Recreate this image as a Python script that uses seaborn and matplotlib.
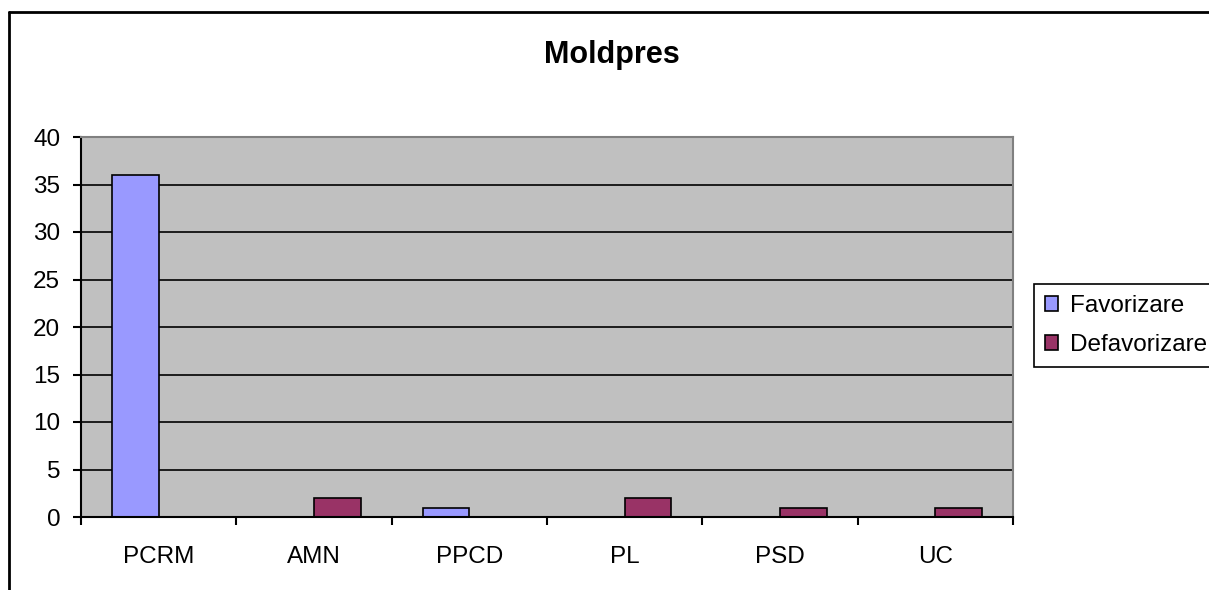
import numpy as np
import pandas as pd
from matplotlib import pyplot as plt
from matplotlib.lines import Line2D
import seaborn as sns

# values
partide = ["PCRM", "AMN", "PPCD", "PL", "PSD", "UC"]
favorizare = [36, 0, 1, 0, 0, 0]
defavorizare = [0, 2, 0, 2, 1, 1]
serii = ["Favorizare", "Defavorizare"]
culori = ["#9999FF", "#993366"]

df = pd.DataFrame({
    "partid": partide * 2,
    "valoare": favorizare + defavorizare,
    "serie": [serii[0]] * len(partide) + [serii[1]] * len(partide),
})

sns.set_style("ticks")
plt.rcParams['font.family'] = ['Liberation Sans', 'DejaVu Sans']
plt.rcParams['text.color'] = 'black'
plt.rcParams['xtick.labelcolor'] = 'black'
plt.rcParams['ytick.labelcolor'] = 'black'

W, H = 1209, 590
fig = plt.figure(figsize=(W / 100, H / 100), dpi=100)
ax = fig.add_axes([81 / W, 1 - 517 / H, (1013 - 81) / W, (517 - 137) / H])
ax.set_facecolor("#C0C0C0")

sns.barplot(data=df, x="partid", y="valoare", hue="serie", hue_order=serii,
            order=partide, palette=culori, width=0.6, edgecolor="black",
            linewidth=1.2, saturation=1, ax=ax)

ax.set_xlim(-0.5, len(partide) - 0.5)
ax.set_ylim(0, 40)
ax.set_yticks(np.arange(0, 41, 5))
ax.yaxis.grid(True, color="black", linewidth=1.2)
ax.set_axisbelow(True)
ax.set_xlabel("")
ax.set_ylabel("")

ax.set_xticks(np.arange(-0.5, len(partide), 1), minor=True)
ax.tick_params(axis="x", which="major", length=0, pad=21, labelsize=17.5, labelcolor="black")
ax.tick_params(axis="x", which="minor", length=6, width=1.5, direction="out", color="black")
ax.tick_params(axis="y", length=6, width=1.5, pad=9, labelsize=17.5, color="black", labelcolor="black")

for s in ["left", "bottom"]:
    ax.spines[s].set_color("black")
    ax.spines[s].set_linewidth(1.5)
for s in ["top", "right"]:
    ax.spines[s].set_visible(True)
    ax.spines[s].set_color("#808080")
    ax.spines[s].set_linewidth(1.5)

fig.text(612 / W, 1 - 55 / H, "Moldpres", ha="center", va="center",
         fontsize=22, fontweight="bold", color="black")

handles, labels = ax.get_legend_handles_labels()
leg = ax.legend(handles, labels, loc="upper left",
                bbox_to_anchor=(1034 / W, 1 - 284 / H), bbox_transform=fig.transFigure,
                fontsize=17.5, frameon=True, fancybox=False, edgecolor="black",
                framealpha=1, handlelength=0.55, handleheight=0.55, handletextpad=0.5,
                borderaxespad=0, borderpad=0.45, labelspacing=0.7, title=None)
leg.get_frame().set_linewidth(1.2)
for t in leg.get_texts():
    t.set_color("black")

# outer chart border (left and top edges visible)
fig.add_artist(Line2D([9 / W, 9 / W], [0, 1 - 12 / H], transform=fig.transFigure,
                      color="black", linewidth=2))
fig.add_artist(Line2D([9 / W, 1], [1 - 12 / H, 1 - 12 / H], transform=fig.transFigure,
                      color="black", linewidth=2))

fig.savefig("out.png", dpi=100)
